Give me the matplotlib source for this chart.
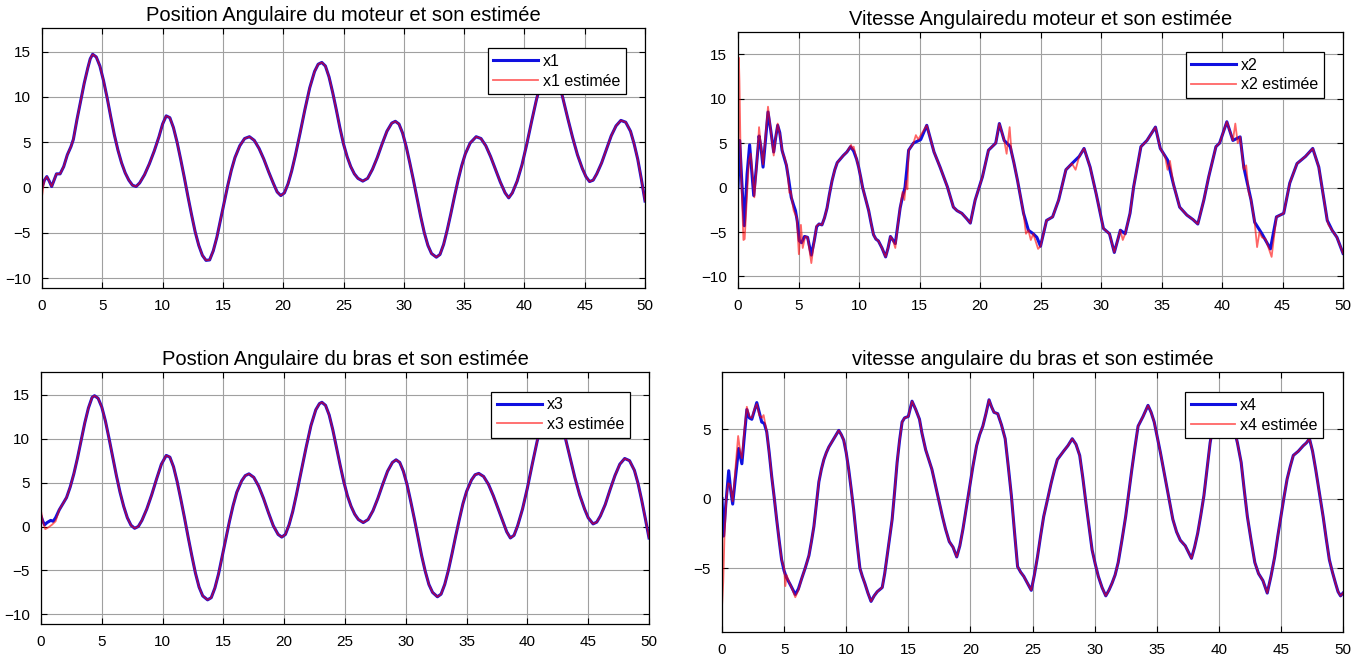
import matplotlib
matplotlib.use('Agg')
import matplotlib.pyplot as plt

plt.rcParams['font.family'] = ['Liberation Sans', 'DejaVu Sans']

# ---- x1 : position angulaire du moteur ----
t1 = [0.0, 0.2, 0.4, 0.6, 0.8, 1.0, 1.2, 1.5, 1.8, 2.1, 2.4, 2.6, 2.9, 3.2, 3.5, 3.8, 4.0, 4.2,
      4.5, 4.8, 5.1, 5.4, 5.7, 6.0, 6.3, 6.6, 6.9, 7.2, 7.5, 7.8, 8.1, 8.5, 8.9, 9.3, 9.7, 10.0,
      10.3, 10.6, 10.9, 11.2, 11.5, 11.8, 12.1, 12.4, 12.7, 13.0, 13.3, 13.6, 13.9, 14.2, 14.5,
      14.8, 15.1, 15.4, 15.7, 16.0, 16.4, 16.8, 17.2, 17.6, 18.0, 18.4, 18.8, 19.2, 19.5, 19.8,
      20.1, 20.4, 20.7, 21.0, 21.4, 21.8, 22.2, 22.6, 22.9, 23.2, 23.5, 23.8, 24.1, 24.4, 24.7,
      25.0, 25.3, 25.6, 25.9, 26.2, 26.6, 27.0, 27.4, 27.8, 28.2, 28.6, 29.0, 29.3, 29.6, 29.9,
      30.2, 30.5, 30.8, 31.1, 31.4, 31.7, 32.0, 32.3, 32.7, 33.0, 33.3, 33.6, 33.9, 34.2, 34.5,
      34.8, 35.1, 35.5, 36.0, 36.4, 36.8, 37.2, 37.6, 38.0, 38.4, 38.7, 39.0, 39.4, 39.8, 40.2,
      40.6, 41.0, 41.4, 41.8, 42.1, 42.5, 42.9, 43.2, 43.6, 44.0, 44.4, 44.8, 45.1, 45.4, 45.7,
      46.0, 46.4, 46.8, 47.2, 47.6, 48.0, 48.4, 48.8, 49.1, 49.4, 49.7, 50.0]
x1 = [0.0, 0.8, 1.2, 0.7, 0.1, 0.8, 1.5, 1.5, 2.3, 3.6, 4.5, 5.3, 7.5, 9.5, 11.5, 13.2, 14.2, 14.7,
      14.4, 13.4, 11.8, 9.9, 7.8, 5.8, 4.1, 2.7, 1.6, 0.8, 0.25, 0.1, 0.5, 1.4, 2.6, 4.0, 5.6, 7.0,
      7.9, 7.7, 6.6, 5.0, 3.1, 1.1, -1.0, -3.0, -4.9, -6.4, -7.5, -8.05, -8.0, -7.0, -5.5,
      -3.6, -1.7, 0.2, 1.9, 3.3, 4.6, 5.4, 5.6, 5.2, 4.3, 3.1, 1.7, 0.4, -0.5, -0.9,
      -0.6, 0.4, 1.8, 3.5, 6.0, 8.6, 11.0, 12.8, 13.6, 13.8, 13.4, 12.2, 10.5, 8.6, 6.6,
      4.8, 3.4, 2.3, 1.5, 1.0, 0.7, 1.0, 2.0, 3.3, 4.8, 6.2, 7.1, 7.3, 7.0, 6.0,
      4.5, 2.7, 0.8, -1.2, -3.2, -5.0, -6.4, -7.3, -7.7, -7.4, -6.3, -4.7, -2.9, -1.0, 0.8,
      2.4, 3.7, 4.9, 5.6, 5.4, 4.6, 3.4, 2.0, 0.6, -0.6, -1.15, -0.6, 0.7, 2.5, 4.8,
      7.3, 9.7, 11.7, 13.0, 13.4, 13.0, 11.4, 9.8, 7.6, 5.5, 3.6, 2.1, 1.2, 0.65, 0.8,
      1.5, 2.7, 4.2, 5.7, 6.8, 7.4, 7.2, 6.2, 4.8, 3.1, 0.9, -1.5]
t1_est = [0.0, 0.1] + t1[1:]
x1_est = [-1.0, 0.0] + x1[1:]

# ---- x2 : vitesse angulaire du moteur ----
t2 = [0.0, 0.14, 0.3, 0.52, 0.75, 0.96, 1.1, 1.3, 1.5, 1.74, 1.9, 2.07, 2.25, 2.48, 2.7, 2.95,
      3.1, 3.28, 3.45, 3.64, 4.0, 4.2, 4.4, 4.6, 4.75, 4.9, 5.07, 5.25, 5.5, 5.75, 6.06, 6.3,
      6.5, 6.7, 6.94, 7.15, 7.36, 7.55, 7.77, 8.0, 8.2, 8.45, 8.7, 9.0, 9.3, 9.56, 9.8, 9.97,
      10.15, 10.3, 10.55, 10.8, 11.0, 11.2, 11.4, 11.6, 11.9, 12.2, 12.4, 12.6, 12.8, 13.0,
      13.2, 13.4, 13.6, 13.8, 13.95, 14.1, 14.5, 15.1, 15.6, 15.9, 16.2, 16.7, 17.3, 17.8,
      18.1, 18.5, 18.9, 19.2, 19.6, 20.2, 20.7, 21.3, 21.6, 22.0, 22.5, 22.8, 23.1, 23.6,
      24.0, 24.4, 24.7, 25.0, 25.5, 26.0, 26.5, 27.1, 27.6, 28.2, 28.6, 29.1, 29.6, 30.2,
      30.7, 31.1, 31.6, 32.0, 32.4, 32.7, 33.3, 33.8, 34.5, 34.9, 35.5, 36.0, 36.5, 37.1,
      37.6, 38.0, 38.5, 38.9, 39.5, 39.8, 40.4, 40.9, 41.5, 41.8, 42.4, 42.7, 43.3, 44.0,
      44.5, 45.1, 45.6, 46.2, 46.9, 47.5, 48.0, 48.4, 48.7, 49.1, 49.5, 50.0]
x2 = [0.0, 5.3, 1.0, -4.3, 1.5, 4.8, 2.5, -0.9, 2.0, 5.8, 4.5, 2.3, 5.0, 8.5, 6.5, 4.0,
      5.5, 7.0, 6.2, 4.2, 2.5, 0.8, -1.1, -2.0, -2.6, -3.8, -6.0, -6.2, -5.5, -5.6, -7.6, -6.0,
      -4.4, -4.1, -4.2, -3.4, -2.3, -0.8, 0.75, 2.0, 2.8, 3.2, 3.6, 4.0, 4.6, 4.1, 3.2, 2.3,
      1.1, 0.0, -1.3, -2.6, -4.0, -5.3, -5.8, -6.0, -6.8, -7.8, -6.8, -5.5, -5.9, -6.3,
      -4.3, -2.3, -1.0, 0.0, 2.0, 4.2, 5.0, 5.4, 7.0, 5.5, 4.0, 2.3, 0.1, -2.2,
      -2.6, -2.9, -3.5, -4.0, -1.4, 1.2, 4.2, 5.0, 7.2, 5.3, 4.6, 2.8, 0.8, -2.9,
      -4.8, -5.2, -5.6, -6.6, -3.7, -3.3, -1.4, 2.0, 2.7, 3.5, 4.4, 2.3, -0.7, -4.6,
      -5.2, -7.3, -4.8, -5.2, -2.9, 0.1, 4.6, 5.3, 6.8, 4.4, 3.1, 0.3, -2.2, -3.1,
      -3.6, -4.1, -1.4, 1.2, 4.6, 5.0, 7.4, 5.3, 5.7, 2.3, -1.4, -3.9, -5.2, -6.9,
      -3.3, -2.9, 0.5, 2.7, 3.5, 4.4, 2.3, -1.1, -3.7, -4.8, -5.6, -7.4]
t2_est = [0.0, 0.07, 0.12, 0.2, 0.3, 0.45, 0.55, 0.7, 0.9, 1.05, 1.2, 1.35, 1.55, 1.74, 1.9,
          2.07, 2.25, 2.48, 2.7, 2.95, 3.1, 3.28, 3.5, 3.7, 3.85, 4.05, 4.25, 4.35, 4.6, 4.86,
          5.03, 5.2, 5.35, 5.55, 5.75, 6.06, 6.3, 6.5, 6.7, 6.94, 7.15, 7.36, 7.55, 7.77, 8.0,
          8.2, 8.45, 8.7, 9.0, 9.35, 9.45, 9.56, 9.8, 9.97, 10.15, 10.3, 10.55, 10.8, 11.0,
          11.2, 11.4, 11.6, 11.9, 12.2, 12.4, 12.6, 12.8, 13.0, 13.2, 13.4, 13.6, 13.75, 13.9,
          14.0, 14.1, 14.5, 14.7, 14.9, 15.1, 15.6, 15.9, 16.2, 16.7, 17.3, 17.8, 18.1, 18.5,
          18.9, 19.2, 19.6, 20.2, 20.7, 21.3, 21.6, 22.0, 22.2, 22.45, 22.6, 22.8, 23.1, 23.6,
          23.8, 24.0, 24.2, 24.4, 24.8, 25.0, 25.5, 26.0, 26.5, 27.1, 27.6, 27.9, 28.2, 28.6,
          29.1, 29.6, 30.2, 30.7, 31.1, 31.6, 31.8, 32.0, 32.4, 32.7, 33.3, 33.6, 33.8, 34.5,
          34.9, 35.3, 35.5, 35.7, 36.0, 36.5, 37.1, 37.6, 38.0, 38.5, 38.9, 39.5, 39.8, 40.4,
          40.9, 41.1, 41.3, 41.5, 41.8, 42.0, 42.2, 42.4, 42.7, 42.9, 43.1, 43.3, 43.6, 44.1,
          44.5, 45.1, 45.6, 46.2, 46.9, 47.5, 48.0, 48.4, 48.7, 48.8, 49.1, 49.5, 50.0]
x2_est = [0.0, 14.6, 12.0, 5.0, 0.0, -5.9, -5.8, -2.0, 3.0, 3.8, 1.5, -1.1, 2.5, 6.8, 4.6,
          2.6, 5.5, 9.1, 6.5, 3.6, 5.5, 7.2, 5.7, 3.8, 3.4, 2.3, -0.6, -0.4, -2.6, -3.4,
          -7.5, -4.2, -6.8, -5.5, -5.6, -8.5, -6.0, -4.3, -4.1, -4.2, -3.4, -2.3, -0.8, 0.75, 2.0,
          2.8, 3.2, 3.6, 4.0, 4.8, 4.3, 4.6, 3.2, 2.3, 1.1, 0.0, -1.3, -2.6, -4.0,
          -5.3, -5.8, -6.0, -6.8, -7.8, -6.8, -5.5, -5.9, -6.8, -4.3, -2.3, -0.5, -1.4, 0.75,
          -0.2, 4.2, 5.0, 5.9, 5.4, 5.9, 7.0, 5.5, 4.0, 2.3, 0.1, -2.2, -2.6, -2.9,
          -3.5, -4.0, -1.4, 1.2, 4.2, 5.0, 7.2, 5.3, 3.8, 6.8, 4.0, 2.8, 0.8, -2.9,
          -5.2, -4.8, -5.9, -5.2, -6.9, -6.6, -3.7, -3.3, -1.4, 2.0, 2.7, 2.0, 3.5, 4.4,
          2.3, -0.7, -4.6, -5.2, -7.3, -4.8, -5.9, -5.2, -2.9, 0.1, 4.6, 5.0, 5.3, 6.8,
          4.4, 3.5, 2.0, 3.0, 0.3, -2.2, -3.1, -3.6, -4.1, -1.4, 1.2, 4.6, 5.0, 7.4,
          5.3, 7.2, 5.0, 5.7, 2.0, 2.5, -0.5, -1.4, -3.9, -6.7, -5.0, -5.6, -5.8, -7.8,
          -3.3, -2.9, 0.5, 2.7, 3.5, 4.4, 2.3, -1.1, -3.7, -4.2, -4.8, -5.6, -7.4]

# ---- x3 : position angulaire du bras ----
t3 = [0.0, 0.15, 0.3, 0.5, 0.8, 1.0, 1.2, 1.5, 1.8, 2.1, 2.4, 2.7, 3.0, 3.3, 3.6, 3.9, 4.2, 4.4,
      4.7, 5.0, 5.3, 5.6, 5.9, 6.2, 6.5, 6.8, 7.1, 7.4, 7.7, 8.0, 8.3, 8.7, 9.1, 9.5, 9.9, 10.3,
      10.6, 10.9, 11.2, 11.5, 11.8, 12.1, 12.4, 12.7, 13.0, 13.3, 13.7, 14.0, 14.3, 14.6, 14.9,
      15.2, 15.5, 15.8, 16.1, 16.5, 16.8, 17.1, 17.5, 17.9, 18.3, 18.7, 19.1, 19.5, 19.8, 20.1,
      20.4, 20.7, 21.0, 21.4, 21.8, 22.2, 22.6, 22.9, 23.1, 23.4, 23.7, 24.0, 24.3, 24.6, 24.9,
      25.2, 25.5, 25.8, 26.1, 26.5, 26.9, 27.3, 27.7, 28.1, 28.5, 28.9, 29.2, 29.5, 29.8, 30.1,
      30.4, 30.7, 31.0, 31.3, 31.6, 31.9, 32.2, 32.6, 32.9, 33.2, 33.5, 33.8, 34.1, 34.4, 34.7,
      35.0, 35.4, 35.7, 36.0, 36.4, 36.8, 37.2, 37.6, 38.0, 38.3, 38.6, 38.9, 39.2, 39.6, 40.0,
      40.4, 40.8, 41.2, 41.6, 42.0, 42.4, 42.8, 43.1, 43.5, 43.9, 44.3, 44.7, 45.0, 45.4, 45.7,
      46.0, 46.4, 46.8, 47.2, 47.6, 48.0, 48.4, 48.8, 49.1, 49.4, 49.7, 50.0]
x3 = [1.2, 0.6, 0.2, 0.45, 0.7, 0.6, 1.0, 1.9, 2.6, 3.3, 4.5, 6.0, 7.8, 9.8, 11.8, 13.5, 14.7, 14.9,
      14.6, 13.6, 12.0, 10.0, 7.9, 5.8, 3.9, 2.3, 1.0, 0.15, -0.2, 0.0, 0.7, 2.0, 3.6, 5.4, 7.1, 8.1,
      7.9, 6.8, 5.1, 3.1, 1.0, -1.2, -3.3, -5.3, -6.9, -7.9, -8.35, -8.1, -7.0, -5.4, -3.4,
      -1.4, 0.6, 2.4, 3.9, 5.2, 5.8, 6.0, 5.6, 4.6, 3.2, 1.6, 0.1, -0.9, -1.2, -0.9,
      0.2, 1.7, 3.6, 6.3, 9.0, 11.5, 13.3, 14.0, 14.15, 13.8, 12.7, 11.0, 9.0, 7.0, 5.1,
      3.5, 2.3, 1.4, 0.8, 0.45, 0.8, 1.8, 3.2, 4.8, 6.3, 7.3, 7.6, 7.3, 6.3, 4.8,
      2.9, 0.9, -1.2, -3.3, -5.1, -6.6, -7.5, -8.0, -7.7, -6.6, -5.0, -3.1, -1.1, 0.8, 2.6,
      4.0, 5.3, 5.9, 6.05, 5.7, 4.8, 3.5, 2.0, 0.5, -0.6, -1.3, -1.0, 0.1, 2.0, 4.4,
      7.1, 9.7, 11.9, 13.3, 13.8, 13.4, 11.8, 10.2, 7.9, 5.6, 3.6, 2.0, 1.0, 0.3, 0.5,
      1.2, 2.5, 4.2, 5.8, 7.1, 7.75, 7.5, 6.4, 4.9, 3.0, 0.9, -1.3]
t3_est = [0.0, 0.15, 0.35, 0.6, 0.9, 1.2] + t3[7:]
x3_est = [1.8, 0.6, -0.3, -0.1, 0.2, 0.6] + x3[7:]

# ---- x4 : vitesse angulaire du bras ----
t4 = [0.0, 0.13, 0.3, 0.54, 0.7, 0.86, 1.07, 1.34, 1.6, 1.8, 2.0, 2.2, 2.4, 2.6, 2.8, 3.0, 3.2,
      3.4, 3.6, 3.8, 4.0, 4.2, 4.4, 4.6, 4.8, 5.0, 5.2, 5.5, 5.9, 6.15, 6.4, 6.7, 7.0, 7.2, 7.4,
      7.6, 7.8, 8.0, 8.2, 8.4, 8.6, 8.8, 9.0, 9.2, 9.4, 9.6, 9.8, 10.0, 10.2, 10.4, 10.6, 10.85,
      11.1, 11.3, 11.5, 11.75, 12.0, 12.25, 12.5, 12.9, 13.1, 13.3, 13.5, 13.7, 13.9, 14.1, 14.3,
      14.5, 14.7, 15.0, 15.3, 15.6, 15.9, 16.1, 16.4, 16.65, 16.9, 17.2, 17.5, 17.75, 18.0, 18.3,
      18.6, 18.9, 19.15, 19.4, 19.65, 19.9, 20.2, 20.5, 20.75, 21.0, 21.25, 21.5, 21.7, 21.9,
      22.2, 22.5, 22.8, 23.05, 23.3, 23.55, 23.8, 24.05, 24.3, 24.6, 24.9, 25.15, 25.4, 25.65,
      25.9, 26.2, 26.5, 26.75, 27.0, 27.25, 27.5, 27.85, 28.2, 28.5, 28.8, 29.05, 29.3, 29.55,
      29.8, 30.05, 30.3, 30.6, 30.9, 31.15, 31.4, 31.65, 31.9, 32.2, 32.5, 32.75, 33.0, 33.25,
      33.5, 33.9, 34.3, 34.55, 34.8, 35.05, 35.3, 35.55, 35.8, 36.05, 36.3, 36.6, 36.9, 37.3,
      37.8, 38.05, 38.3, 38.55, 38.8, 39.05, 39.3, 39.6, 39.9, 40.3, 40.7, 41.1, 41.5, 41.8,
      42.05, 42.3, 42.6, 42.9, 43.2, 43.55, 43.9, 44.2, 44.5, 44.75, 45.0, 45.25, 45.5, 45.75,
      46.0, 46.4, 46.8, 47.05, 47.3, 47.55, 47.8, 48.1, 48.4, 48.65, 48.9, 49.15, 49.4, 49.6,
      49.8, 50.0]
x4 = [0.0, -2.7, -0.5, 2.0, 0.6, -0.4, 1.4, 3.6, 2.5, 4.5, 6.4, 5.8, 5.7, 6.3, 6.9, 6.2, 5.5,
      5.4, 4.8, 3.3, 1.6, 0.1, -1.5, -3.0, -4.4, -5.2, -5.7, -6.2, -6.9, -6.5, -5.8, -5.0, -4.1, -3.1, -2.0,
      -0.4, 1.2, 2.1, 2.8, 3.3, 3.7, 4.0, 4.3, 4.6, 4.9, 4.6, 4.2, 3.3, 2.1, 0.7, -0.8, -3.0,
      -5.0, -5.6, -6.1, -6.8, -7.4, -7.0, -6.7, -6.4, -5.4, -4.1, -2.8, -1.5, 0.5, 2.6, 4.2,
      5.5, 5.8, 5.9, 7.0, 6.4, 5.7, 4.7, 3.5, 2.8, 2.1, 0.9, -0.3, -1.3, -2.2, -3.1,
      -3.5, -4.2, -3.4, -2.2, -0.8, 0.65, 2.3, 3.8, 4.6, 5.2, 6.1, 7.1, 6.6, 6.2,
      6.1, 5.3, 4.3, 2.3, 0.2, -2.4, -4.9, -5.3, -5.6, -6.1, -6.6, -5.5, -4.2, -2.7,
      -1.3, -0.1, 1.1, 2.0, 2.8, 3.1, 3.4, 3.8, 4.3, 3.9, 3.1, 1.5, -0.3, -2.0,
      -3.7, -4.7, -5.6, -6.4, -7.0, -6.6, -6.1, -5.5, -4.6, -3.0, -1.3, 0.4, 2.1, 3.7,
      5.2, 5.9, 6.7, 6.2, 5.5, 4.4, 3.3, 2.1, 0.9, -0.3, -1.5, -2.4, -3.0, -3.4,
      -4.3, -3.5, -2.5, -1.2, 0.2, 2.1, 4.0, 5.6, 6.5, 7.0, 6.5, 5.5, 4.0, 2.6,
      0.6, -1.3, -3.0, -4.6, -5.4, -5.9, -6.8, -5.6, -4.2, -2.7, -1.3, 0.1, 1.4, 2.3,
      3.1, 3.4, 3.8, 4.0, 4.3, 3.4, 2.1, 0.4, -1.3, -2.9, -4.4, -5.3, -6.1, -6.7,
      -7.0, -6.8]
t4_est = [0.0, 0.1, 0.2, 0.35, 0.5, 0.65, 0.86, 1.07, 1.3, 1.45, 1.6, 1.8, 2.0, 2.2, 2.4, 2.6,
          2.8, 3.0, 3.2, 3.35, 3.5, 3.6, 3.8, 4.0, 4.2, 4.4, 4.6, 4.8, 5.0, 5.1, 5.2, 5.4, 5.6,
          5.9, 6.15] + t4[30:]
x4_est = [-7.8, -6.0, -2.7, 0.0, 1.1, 1.0, -0.2, 2.0, 4.5, 3.5, 2.9, 4.9, 6.6, 5.9, 5.8, 6.4,
          6.8, 6.0, 5.8, 6.0, 5.3, 4.8, 3.3, 1.6, 0.1, -1.5, -3.0, -4.4, -5.0, -6.3, -5.5, -6.0, -6.4,
          -7.1, -6.6] + x4[30:]

panels = [
    ((42, 28, 645, 288), 'Position Angulaire du moteur et son estimée', t1, x1, t1_est, x1_est,
     'x1', (-11.1, 17.6), [-10, -5, 0, 5, 10, 15]),
    ((738, 32, 1343, 288), 'Vitesse Angulairedu moteur et son estimée', t2, x2, t2_est, x2_est,
     'x2', (-11.3, 17.5), [-10, -5, 0, 5, 10, 15]),
    ((41, 372, 649, 624), 'Postion Angulaire du bras et son estimée', t3, x3, t3_est, x3_est,
     'x3', (-11.1, 17.6), [-10, -5, 0, 5, 10, 15]),
    ((722, 372, 1343, 632), 'vitesse angulaire du bras et son estimée', t4, x4, t4_est, x4_est,
     'x4', (-9.6, 9.1), [-5, 0, 5]),
]

W, H = 1369, 659
fig = plt.figure(figsize=(W / 100, H / 100), dpi=100)

for (l, t, r, b), title, tt, xx, te, xe, name, ylim, yt in panels:
    ax = fig.add_axes([l / W, 1 - b / H, (r - l) / W, (b - t) / H])
    ax.plot(tt, xx, color='#1010e0', lw=2.2, label=name)
    ax.plot(te, xe, color='#ff0000', lw=1.3, alpha=0.6, label=name + ' estimée')
    ax.set_xlim(0, 50)
    ax.set_ylim(*ylim)
    ax.set_xticks(range(0, 51, 5))
    ax.set_yticks(yt)
    ax.grid(True, color='#a0a0a0', lw=0.8)
    ax.set_axisbelow(True)
    ax.tick_params(direction='in', length=4, labelsize=11, top=True, right=True,
                   width=0.8, pad=8)
    for s in ax.spines.values():
        s.set_linewidth(0.9)
    ax.set_title(title, fontsize=14.5, pad=5)
    leg = ax.legend(loc='upper right', bbox_to_anchor=(0.968, 0.922), borderaxespad=0,
                    fontsize=11.5, fancybox=False, framealpha=1, edgecolor='black',
                    handlelength=2.8, handletextpad=0.3, borderpad=0.35, labelspacing=0.3)
    leg.get_frame().set_linewidth(0.9)

fig.savefig('out.png', dpi=100)
